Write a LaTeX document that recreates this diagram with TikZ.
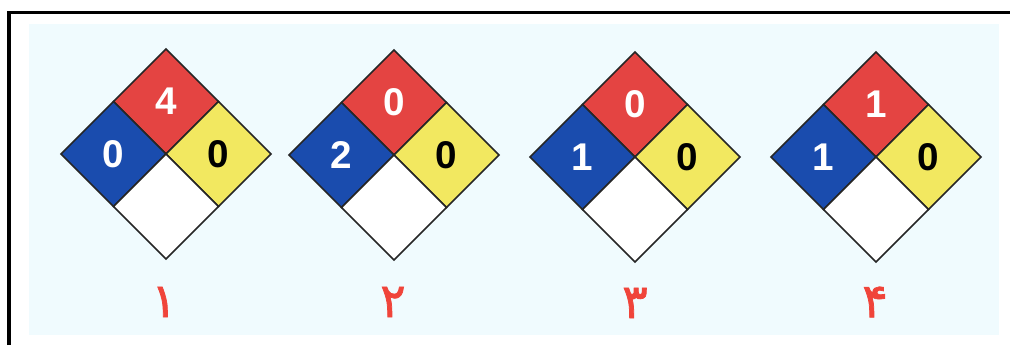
\documentclass[tikz,border=0pt]{standalone}
\usepackage{fontspec}
\setmainfont{Liberation Sans}
\newfontfamily\arabicfont[Script=Arabic,FakeBold=1.6]{DejaVu Sans}
\TeXXeTstate=1
\usetikzlibrary{positioning, shapes.geometric}

\definecolor{firered}{RGB}{228,68,66}
\definecolor{healthblue}{RGB}{26,76,174}
\definecolor{reactyellow}{RGB}{242,232,96}
\definecolor{tagred}{RGB}{240,68,58}
\definecolor{paleblue}{RGB}{240,251,254}

\begin{document}
\begin{tikzpicture}[
                x=0.02cm, y=-0.02cm,
                node distance=0pt,
                quad/.style={
                        diamond,
                        aspect=1,
                        draw=black!85,
                        line width=0.9pt,
                        minimum width=2.1cm,
                        minimum height=2.1cm,
                        inner sep=0pt,
                        outer sep=0pt,
                        font=\bfseries\fontsize{22}{22}\selectfont
                    },
                fire/.style={quad, fill=firered, text=white},
                health/.style={quad, fill=healthblue, text=white},
                react/.style={quad, fill=reactyellow, text=black},
                special/.style={quad, fill=white},
                tag/.style={text=tagred, font=\arabicfont\fontsize{27}{27}\selectfont}
            ]

            \useasboundingbox (0,0) rectangle (1010,345);
            \fill[paleblue] (29,24) rectangle (999,335);
            \draw[line width=0.07cm] (9,345) -- (9,12.5) -- (1010,12.5);

            % diamond 1
            \coordinate (c1) at (166,154);
            \node[fire, above=of c1] (f1) {4};
            \node[health, left=of c1] (h1) {0};
            \node[react, right=of c1] (r1) {0};
            \node[special, below=of c1] (s1) {};
            \node[tag] (t1) at (164,302) {\beginR ۱\endR};

            % diamond 2
            \coordinate (c2) at (394,155);
            \node[fire, above=of c2] (f2) {0};
            \node[health, left=of c2] (h2) {2};
            \node[react, right=of c2] (r2) {0};
            \node[special, below=of c2] (s2) {};
            \node[tag] (t2) at (393,302) {\beginR ۲\endR};

            % diamond 3
            \coordinate (c3) at (635,157);
            \node[fire, above=of c3] (f3) {0};
            \node[health, left=of c3] (h3) {1};
            \node[react, right=of c3] (r3) {0};
            \node[special, below=of c3] (s3) {};
            \node[tag] (t3) at (635,303) {\beginR ۳\endR};

            % diamond 4
            \coordinate (c4) at (876,157);
            \node[fire, above=of c4] (f4) {1};
            \node[health, left=of c4] (h4) {1};
            \node[react, right=of c4] (r4) {0};
            \node[special, below=of c4] (s4) {};
            \node[tag] (t4) at (875,302) {\beginR ۴\endR};

        \end{tikzpicture}
\end{document}
